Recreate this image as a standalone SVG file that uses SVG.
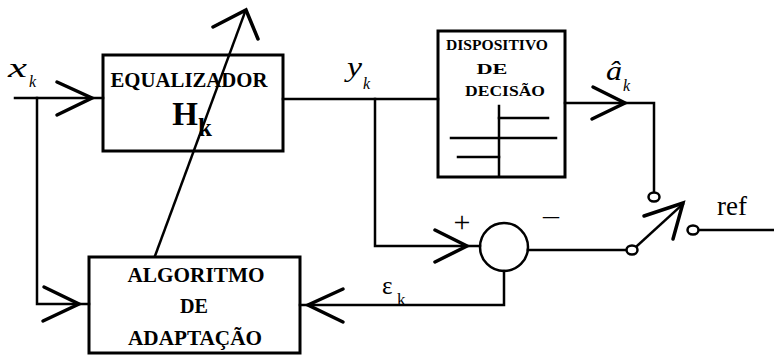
<svg xmlns="http://www.w3.org/2000/svg" width="774" height="355" viewBox="0 0 774 355" font-family="Liberation Serif, Times New Roman, serif">
<style>
.box{fill:none;stroke:#000;stroke-width:3}
.ln{fill:none;stroke:#000;stroke-width:2.5;stroke-linecap:square}
.arr{fill:none;stroke:#000;stroke-width:3.5;stroke-linecap:round;stroke-linejoin:miter}
.term{fill:#fff;stroke:#000;stroke-width:2.5}
.bt{font-weight:bold;text-anchor:middle}
.it{font-style:italic}
</style>
<rect width="774" height="355" fill="#fff"/>
<g id="connectors">
  <polyline class="ln" points="15,98 103,98"/>
  <polyline class="arr" points="57,82 92,98 57,115"/>
  <polyline class="ln" points="37,98 37,304 89,304"/>
  <polyline class="arr" points="44,287 79,304 43,321"/>
  <polyline class="ln" points="283,99 438,99"/>
  <polyline class="ln" points="375,99 375,246 480,246"/>
  <polyline class="arr" points="435,230 467,246 435,262"/>
  <polyline class="ln" points="565,103 654,103 654,192"/>
  <polyline class="arr" points="593,87 625,103 592,119"/>
  <polyline class="ln" points="504,271 504,305 300,305"/>
  <polyline class="arr" points="343,289 308,305 343,322"/>
  <polyline class="ln" points="528,250 626,250"/>
  <line class="ln" x1="637" y1="246" x2="683" y2="204"/>
  <polyline class="arr" points="644,216 683,203 673,239"/>
  <polyline class="ln" points="699,230 774,230"/>
  <line class="ln" x1="155" y1="256" x2="245" y2="12"/>
  <polyline class="arr" points="213,27 246,10 258,39"/>
  <ellipse class="term" cx="654" cy="197" rx="5.5" ry="4.5"/>
  <ellipse class="term" cx="632" cy="250" rx="5.5" ry="4.5"/>
  <ellipse class="term" cx="693" cy="230" rx="5.5" ry="4.5"/>
</g>
<g id="equalizador">
  <rect class="box" x="103" y="55" width="180" height="96"/>
  <text class="bt" x="189" y="87" font-size="20" textLength="157" lengthAdjust="spacingAndGlyphs">EQUALIZADOR</text>
  <text class="bt" x="185" y="125" font-size="33">H</text>
  <text class="bt" x="205" y="136" font-size="25">k</text>
</g>
<g id="decisao">
  <rect class="box" x="438" y="31" width="127" height="146"/>
  <text class="bt" x="497" y="50" font-size="15" textLength="102" lengthAdjust="spacingAndGlyphs">DISPOSITIVO</text>
  <text class="bt" x="492" y="74" font-size="15" textLength="31" lengthAdjust="spacingAndGlyphs">DE</text>
  <text class="bt" x="505" y="96" font-size="15" textLength="80" lengthAdjust="spacingAndGlyphs">DECISÃO</text>
  <line class="ln" x1="499" y1="106" x2="499" y2="175"/>
  <line class="ln" x1="499" y1="118" x2="548" y2="118"/>
  <line class="ln" x1="451" y1="138" x2="556" y2="138"/>
  <line class="ln" x1="458" y1="157" x2="499" y2="157"/>
</g>
<g id="algoritmo">
  <rect class="box" x="89" y="257" width="211" height="96"/>
  <text class="bt" x="196" y="282" font-size="20.5" textLength="137" lengthAdjust="spacingAndGlyphs">ALGORITMO</text>
  <text class="bt" x="194" y="313" font-size="20.5" textLength="28" lengthAdjust="spacingAndGlyphs">DE</text>
  <text class="bt" x="195" y="345" font-size="20.5" textLength="134" lengthAdjust="spacingAndGlyphs">ADAPTAÇÃO</text>
</g>
<g id="somador">
  <circle cx="504" cy="247" r="24" fill="none" stroke="#000" stroke-width="2.5"/>
  <text x="462" y="232" font-size="30" text-anchor="middle">+</text>
  <text x="551" y="223" font-size="24" text-anchor="middle" textLength="16" lengthAdjust="spacingAndGlyphs">–</text>
</g>
<g id="labels">
  <text class="it" x="8" y="77" font-size="27" textLength="19" lengthAdjust="spacingAndGlyphs">x</text>
  <text class="it" x="29" y="87" font-size="16">k</text>
  <text class="it" x="347" y="76" font-size="27" textLength="15" lengthAdjust="spacingAndGlyphs">y</text>
  <text class="it" x="363" y="89" font-size="16">k</text>
  <text class="it" x="606" y="80" font-size="27" textLength="16" lengthAdjust="spacingAndGlyphs">â</text>
  <text class="it" x="623" y="91" font-size="16">k</text>
  <text x="382" y="294" font-size="25">ε</text>
  <text x="397" y="305" font-size="17">k</text>
  <text x="717" y="215" font-size="27">ref</text>
</g>
</svg>
